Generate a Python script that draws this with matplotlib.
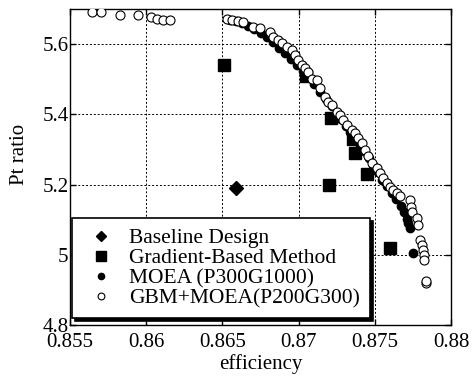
import matplotlib
matplotlib.use("Agg")
import matplotlib.pyplot as plt

plt.rcParams['font.family'] = ['Liberation Serif', 'DejaVu Serif']

# ---- data ----
baseline_x = [0.8659]
baseline_y = [5.19]

gbm_x = [0.8651, 0.8705, 0.8721, 0.8736, 0.8720, 0.8737, 0.8745, 0.8760]
gbm_y = [5.54, 5.51, 5.39, 5.33, 5.20, 5.29, 5.23, 5.02]

moea_x = [0.8655, 0.8659, 0.8663, 0.8667, 0.8671, 0.8675, 0.8679, 0.8683, 0.8687,
          0.8691, 0.8695, 0.8699, 0.8703, 0.8706, 0.8710, 0.8714, 0.8718, 0.8722,
          0.8725, 0.8728, 0.8731, 0.8734, 0.8737, 0.8740, 0.8743, 0.8746, 0.8749,
          0.8752, 0.8755, 0.8758, 0.8761, 0.8764, 0.8767, 0.8769, 0.8771, 0.8772,
          0.8773, 0.8775]
moea_y = [5.670, 5.666, 5.660, 5.652, 5.643, 5.633, 5.620, 5.605, 5.590,
          5.574, 5.558, 5.541, 5.522, 5.506, 5.486, 5.465, 5.444, 5.423,
          5.405, 5.387, 5.368, 5.350, 5.332, 5.314, 5.296, 5.276, 5.257,
          5.236, 5.214, 5.195, 5.176, 5.158, 5.140, 5.122, 5.103, 5.090,
          5.076, 5.006]

hyb_x = [0.85644, 0.85703, 0.85828, 0.85946, 0.86032, 0.86071, 0.86110, 0.86156,
         0.86530, 0.86560, 0.86600, 0.86637, 0.86703, 0.86747, 0.86812, 0.86834,
         0.86867, 0.86889, 0.86922, 0.86955, 0.86976, 0.86998, 0.87020, 0.87042,
         0.87064, 0.87086, 0.87119, 0.87140, 0.87173, 0.87195, 0.87217, 0.87250,
         0.87272, 0.87293, 0.87316, 0.87348, 0.87370, 0.87392, 0.87414, 0.87436,
         0.87457, 0.87480, 0.87512, 0.87534, 0.87556, 0.87578, 0.87600, 0.87621,
         0.87644, 0.87665, 0.87731, 0.87735, 0.87742, 0.87775, 0.87786, 0.87797,
         0.87808, 0.87818, 0.87823, 0.87825, 0.87834, 0.87838]
hyb_y = [5.691, 5.691, 5.682, 5.682, 5.677, 5.671, 5.668, 5.668,
         5.671, 5.668, 5.667, 5.663, 5.649, 5.645, 5.635, 5.621,
         5.611, 5.602, 5.592, 5.583, 5.569, 5.555, 5.540, 5.531,
         5.521, 5.502, 5.498, 5.474, 5.450, 5.436, 5.427, 5.408,
         5.398, 5.384, 5.370, 5.355, 5.346, 5.332, 5.318, 5.299,
         5.280, 5.261, 5.247, 5.232, 5.218, 5.204, 5.194, 5.185,
         5.175, 5.166, 5.156, 5.137, 5.123, 5.104, 5.085, 5.043,
         5.028, 5.014, 5.000, 4.986, 4.921, 4.925]

xticks = [0.855, 0.86, 0.865, 0.87, 0.875, 0.88]
xtick_labels = ["0.855", "0.86", "0.865", "0.87", "0.875", "0.88"]
yticks = [4.8, 5.0, 5.2, 5.4, 5.6]
ytick_labels = ["4.8", "5", "5.2", "5.4", "5.6"]

labels = ["Baseline Design", "Gradient-Based Method", "MOEA (P300G1000)",
          "GBM+MOEA(P200G300)"]

# ---- plot ----
fig = plt.figure(figsize=(4.72, 3.76), dpi=100)
ax = fig.add_axes([70/472, 51/376, 381/472, 316/376])

ax.plot(baseline_x, baseline_y, linestyle='none', marker='D', markersize=7,
        color='black', label=labels[0], zorder=3)
ax.plot(gbm_x, gbm_y, linestyle='none', marker='s', markersize=9,
        color='black', label=labels[1], zorder=3)
ax.plot(moea_x, moea_y, linestyle='none', marker='o', markersize=6,
        color='black', label=labels[2], zorder=4)
ax.plot(hyb_x, hyb_y, linestyle='none', marker='o', markersize=6.5,
        markerfacecolor='white', markeredgecolor='black', markeredgewidth=0.8,
        label=labels[3], zorder=5)

ax.set_xlim(0.855, 0.88)
ax.set_ylim(4.8, 5.7)
ax.set_xticks(xticks)
ax.set_xticklabels(xtick_labels)
ax.set_yticks(yticks)
ax.set_yticklabels(ytick_labels)
ax.tick_params(direction='in', top=True, right=True, labelsize=15, length=4,
               width=1)
ax.tick_params(axis='x', pad=5.5)
ax.tick_params(axis='y', pad=1)
ax.grid(True, linestyle=(0, (2, 2)), color='black', linewidth=0.7)
for s in ax.spines.values():
    s.set_linewidth(1.0)

ax.set_xlabel("efficiency", fontsize=15, labelpad=1.5)
ax.set_ylabel("Pt ratio", fontsize=15)
ax.yaxis.set_label_coords(-0.107, 0.54)

leg = ax.legend(loc='lower left', bbox_to_anchor=(0.006, 0.022),
                borderaxespad=0, fontsize=15.5, fancybox=False, framealpha=1,
                edgecolor='black', shadow={'color': 'black', 'alpha': 1},
                handlelength=1.75, handletextpad=0.45, labelspacing=0.0,
                borderpad=0.45, markerscale=0.75)
leg.get_frame().set_linewidth(1.2)

fig.savefig("out.png", dpi=100)
